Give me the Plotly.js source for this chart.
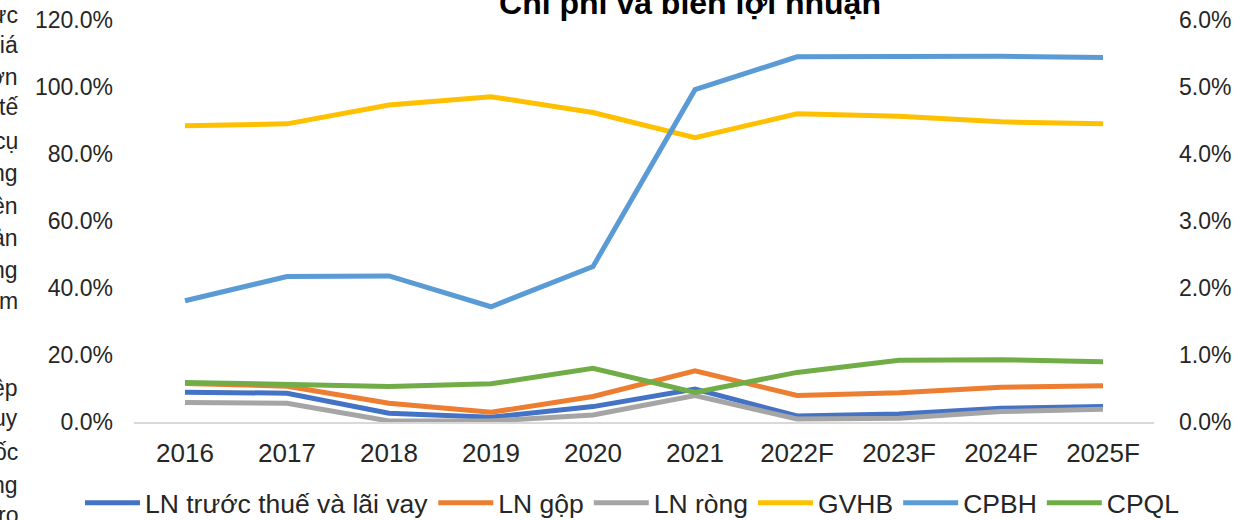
<!DOCTYPE html>
<html>
<head>
<meta charset="utf-8">
<script src="https://cdn.plot.ly/plotly-3.0.1.min.js"></script>
<style>
html,body{margin:0;padding:0;background:#fff;}
#chart{width:1253px;height:520px;}
</style>
</head>
<body>
<div id="chart"></div>
<script>
const years = ["2016","2017","2018","2019","2020","2021","2022F","2023F","2024F","2025F"];
const lnTruocThue = [0.089,0.086,0.026,0.014,0.046,0.0985,0.018,0.024,0.041,0.046];
const lnGop = [0.115,0.107,0.056,0.029,0.076,0.153,0.079,0.087,0.104,0.108];
const lnRong = [0.058,0.056,0.003,0.003,0.021,0.079,0.009,0.011,0.031,0.038];
const gvhb = [0.884,0.890,0.946,0.971,0.924,0.849,0.920,0.913,0.896,0.890];
const cpbh = [0.0181,0.0217,0.0218,0.0172,0.0232,0.0496,0.0545,0.0545,0.0546,0.0544];
const cpql = [0.0059,0.0056,0.0053,0.0057,0.0080,0.0044,0.0074,0.0092,0.0093,0.0090];
const sideText = ["ực","giá","hơn","tế","cụ","ng","ên","ản","ng","m","ệp","uy","ốc","ng","ro"];
const sideY = [15,45,77,107,141,173,206,238,270,301,388,418,452,485,515];

const W = 5;
const traces = [
  {name:"LN trước thuế và lãi vay", x:years, y:lnTruocThue, color:"#4472C4", axis:"y"},
  {name:"LN gộp", x:years, y:lnGop, color:"#ED7D31", axis:"y"},
  {name:"LN ròng", x:years, y:lnRong, color:"#A5A5A5", axis:"y"},
  {name:"GVHB", x:years, y:gvhb, color:"#FFC000", axis:"y"},
  {name:"CPBH", x:years, y:cpbh, color:"#5B9BD5", axis:"y2"},
  {name:"CPQL", x:years, y:cpql, color:"#70AD47", axis:"y2"}
].map(t => ({
  type:"scatter", mode:"lines", name:t.name, x:t.x, y:t.y, yaxis:t.axis,
  line:{color:t.color, width:W, shape:"linear"}, hoverinfo:"skip"
}));

const FAM = "Liberation Sans, Arial, sans-serif";
const yFont = {family:FAM, size:23, color:"#262626"};
const xFont = {family:FAM, size:26, color:"#262626"};
const legFont = {family:FAM, size:26.5, color:"#262626"};
const plotTop = 20, plotBottom = 422;
function py(y){ return (plotBottom - y)/(plotBottom - plotTop); }
function px(x){ return (x - 134)/(1154-134); }

const annotations = sideText.map((t,i) => ({
  text:t, xref:"paper", yref:"paper", x:px(20), y:py(sideY[i]),
  xanchor:"right", yanchor:"middle", showarrow:false, font:yFont
}));

const SAMPLE = 55;
const layout = {
  width:1253, height:520,
  margin:{l:134, r:99, t:20, b:98, autoexpand:false},
  paper_bgcolor:"#fff", plot_bgcolor:"#fff",
  font:yFont,
  title:{text:"<b>Chi phí và biên lợi nhuận</b>", font:{family:FAM, size:32, color:"#000"},
         x:690/1253, xanchor:"center", y:1-3/520, yanchor:"middle", xref:"container", yref:"container"},
  showlegend:true,
  legend:{orientation:"h", x:px(80), xanchor:"left", xref:"paper", yref:"paper",
          y:py(503), yanchor:"middle", font:legFont, itemwidth:SAMPLE, tracegroupgap:0},
  xaxis:{type:"category", showgrid:false, zeroline:false, showline:true, linecolor:"#D9D9D9", linewidth:1.5,
         ticks:"", tickfont:xFont, ticklabelstandoff:7, range:[-0.5,9.5], fixedrange:true},
  yaxis:{range:[0,1.2], dtick:0.2, tickformat:".1%", showgrid:false, zeroline:false, showline:false,
         ticks:"", tickfont:yFont, ticklabelstandoff:20, fixedrange:true},
  yaxis2:{range:[0,0.06], dtick:0.01, tickformat:".1%", overlaying:"y", side:"right", showgrid:false,
          zeroline:false, showline:false, ticks:"", tickfont:yFont, ticklabelstandoff:24, fixedrange:true},
  annotations:annotations
};

Plotly.newPlot("chart", traces, layout, {displayModeBar:false, staticPlot:true}).then(gd => {
  // lengthen the legend line samples to match the longer Excel-style swatches
  gd.querySelectorAll(".legend .legendlines path").forEach(p => {
    p.setAttribute("d", "M5,0h" + SAMPLE);
  });
});
</script>
</body>
</html>
